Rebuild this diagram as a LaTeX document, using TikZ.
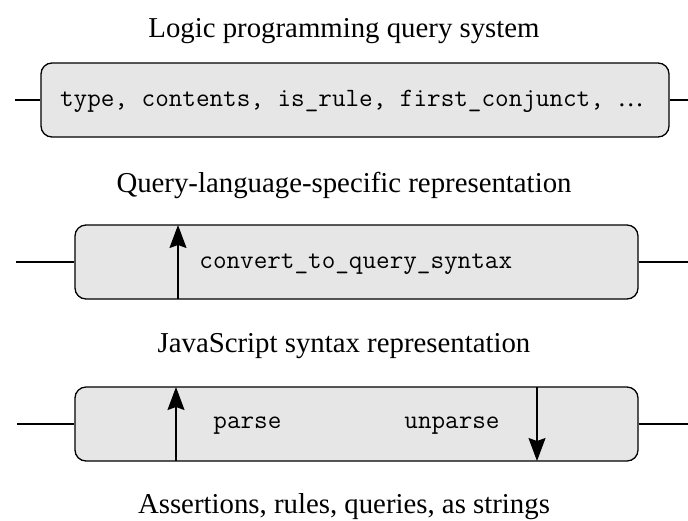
\documentclass[tikz,border=0pt]{standalone}
\usepackage{fontspec}
\setmainfont{Liberation Serif}
\usetikzlibrary{arrows.meta}
\definecolor{boxgray}{HTML}{E6E6E6}
\tikzset{
  px/.style={x=0.5pt,y=-0.5pt},
  box/.style={draw=black, fill=boxgray, rounded corners=5.5pt, line width=0.65pt, inner sep=0pt},
  title/.style={font=\fontsize{14.4}{17}\selectfont, inner sep=0pt},
  code/.style={font=\ttfamily\fontsize{13.2}{15}\selectfont, inner sep=0pt},
  stub/.style={line width=0.65pt},
  arr/.style={line width=0.65pt, -{Stealth[length=11.5pt,width=8.5pt,inset=1.5pt]}}
}
\begin{document}
\begin{tikzpicture}[px]
\useasboundingbox (0,0) rectangle (688,520);
% titles
\node[title] (t1) at (344,31) {Logic programming query system};
\node[title] (t2) at (344,185) {Query-language-specific representation};
\node[title] (t3) at (344,346) {JavaScript syntax representation};
\node[title] (t4) at (344,507) {Assertions, rules, queries, as strings};
% box 1
\node[box, minimum width=314pt, minimum height=37pt] (b1) at (355,100) {};
\node[code] (c1) at (352,101)
  {type, contents, is\_rule, first\_conjunct, {\rmfamily\fontsize{13.2}{15}\selectfont …}};
\coordinate (l1) at (15,100);
\coordinate (r1) at (688,100);
\draw[stub] (l1) -- (b1.west);
\draw[stub] (b1.east) -- (r1);
% box 2
\node[box, minimum width=281.5pt, minimum height=37pt] (b2) at (356.5,262) {};
\node[code, anchor=west] (c2) at (199,264) {convert\_to\_query\_syntax};
\coordinate (l2) at (16,262);
\coordinate (r2) at (688,262);
\draw[stub] (l2) -- (b2.west);
\draw[stub] (b2.east) -- (r2);
\coordinate (a2s) at (178,299);
\coordinate (a2e) at (178,225);
\draw[arr] (a2s) -- (a2e);
% box 3
\node[box, minimum width=281.5pt, minimum height=37pt] (b3) at (356.5,424) {};
\node[code, anchor=west] (p3) at (213,426) {parse};
\node[code, anchor=west] (u3) at (404,426) {unparse};
\coordinate (l3) at (17,424);
\coordinate (r3) at (688,424);
\draw[stub] (l3) -- (b3.west);
\draw[stub] (b3.east) -- (r3);
\coordinate (a3s) at (176,461);
\coordinate (a3e) at (176,387);
\draw[arr] (a3s) -- (a3e);
\coordinate (d3s) at (537,387);
\coordinate (d3e) at (537,461);
\draw[arr] (d3s) -- (d3e);
\end{tikzpicture}
\end{document}
